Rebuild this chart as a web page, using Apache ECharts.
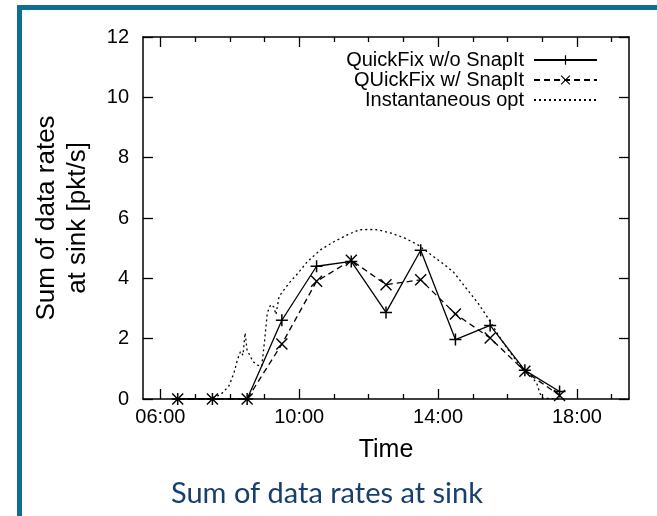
<!DOCTYPE html>
<html>
<head>
<meta charset="utf-8">
<script src="https://cdn.jsdelivr.net/npm/echarts@6/dist/echarts.min.js"></script>
<style>
  html, body { margin: 0; padding: 0; background: #fff; }
  #chart { width: 657px; height: 516px; }
</style>
</head>
<body>
<div id="chart"></div>
<script>
// sample times (hours), one point per hour
var hours = [6.5, 7.5, 8.5, 9.5, 10.5, 11.5, 12.5, 13.5, 14.5, 15.5, 16.5, 17.5];
var noSnapIt = [0, 0, 0, 2.61, 4.40, 4.56, 2.87, 4.93, 1.97, 2.44, 0.95, 0.25];
var withSnapIt = [0, 0, 0, 1.82, 3.90, 4.60, 3.79, 3.95, 2.82, 2.02, 0.92, 0.12];

// instantaneous optimum, finer sampling
var optHours = [6.5, 7.4, 7.73, 7.97, 8.12, 8.22, 8.31, 8.38, 8.44, 8.5, 8.58, 8.66, 8.8, 8.92,
    9.0, 9.08, 9.18, 9.27, 9.33, 9.42, 9.55, 9.75, 9.95, 10.24, 10.62, 11.01, 11.4, 11.73,
    12.0, 12.26, 12.65, 13.03, 13.42, 13.8, 14.19, 14.45, 14.77, 15.15, 15.44, 15.73, 16.02,
    16.31, 16.6, 16.84, 16.93, 17.0, 17.5];
var optValues = [0, 0, 0.14, 0.42, 0.86, 1.30, 1.58, 1.45, 2.19, 1.6, 1.45, 1.25, 1.12, 1.08,
    1.9, 2.85, 3.13, 3.05, 2.8, 3.4, 3.6, 3.9, 4.15, 4.56, 4.95, 5.22, 5.45, 5.61,
    5.62, 5.61, 5.5, 5.34, 5.11, 4.78, 4.45, 4.2, 3.73, 3.18, 2.68, 2.13, 1.63,
    1.19, 0.86, 0.53, 0.2, 0.03, 0];

var majorHours = [6, 10, 14, 18];
var minorHours = [7, 8, 9, 11, 12, 13, 15, 16, 17, 19];
var seriesNames = ['QuickFix w/o SnapIt', 'QUickFix w/ SnapIt', 'Instantaneous opt'];

var FONT = "'Liberation Sans', Arial, sans-serif";
var plusSymbol = 'path://M0,5.25h12v1.5h-12z M5.25,0h1.5v12h-1.5z';
var crossSymbol = 'path://M0,1L1,0L12,11L11,12Z M11,0L12,1L1,12L0,11Z';

function zip(xs, ys) {
    var out = [];
    for (let i = 0; i < xs.length; i++) {
        out.push([xs[i], ys[i]]);
    }
    return out;
}

function hourLabel(v) {
    return (v < 10 ? '0' : '') + v + ':00';
}

var axisLine = { show: true, lineStyle: { color: '#000', width: 1.5 } };

function xAxisCfg(position, ticks, len, main) {
    return {
        type: 'value', position: position, min: 5.5, max: 19.5,
        axisLine: main ? axisLine : { show: false },
        axisTick: { show: true, inside: true, length: len, customValues: ticks,
            lineStyle: { color: '#000', width: 1.3 } },
        axisLabel: { show: false },
        splitLine: { show: false }
    };
}

var bottomAxis = xAxisCfg('bottom', majorHours, 10, true);
bottomAxis.axisLabel = {
    show: true, customValues: majorHours, formatter: hourLabel,
    fontSize: 20, color: '#000', fontFamily: FONT, margin: 8
};
bottomAxis.name = 'Time';
bottomAxis.nameLocation = 'middle';
bottomAxis.nameGap = 39;
bottomAxis.nameTextStyle = { fontSize: 25, color: '#000', fontFamily: FONT };

function yAxisCfg(position, main) {
    var cfg = {
        type: 'value', position: position, min: 0, max: 12, interval: 2,
        axisLine: axisLine,
        axisTick: { show: true, inside: true, length: 10, lineStyle: { color: '#000', width: 1.3 } },
        axisLabel: { show: main, fontSize: 20, color: '#000', fontFamily: FONT, margin: 14 },
        splitLine: { show: false }
    };
    if (main) {
        cfg.name = 'Sum of data rates\nat sink [pkt/s]';
        cfg.nameLocation = 'middle';
        cfg.nameRotate = 90;
        cfg.nameGap = 50;
        cfg.nameTextStyle = { fontSize: 26, lineHeight: 31, color: '#000', fontFamily: FONT };
    }
    return cfg;
}

var option = {
    animation: false,
    backgroundColor: '#fff',
    title: {
        text: 'Sum of data rates at sink',
        left: 166, top: 474,
        textStyle: { fontSize: 29, fontWeight: 'normal', color: '#173f6e', fontFamily: 'Lato, sans-serif' }
    },
    graphic: [
        { type: 'rect', shape: { x: 17, y: 5, width: 5, height: 511 }, style: { fill: '#0f6e94' } },
        { type: 'rect', shape: { x: 17, y: 5, width: 640, height: 5 }, style: { fill: '#0f6e94' } }
    ],
    grid: { left: 143, top: 37, width: 486, height: 362, containLabel: false },
    legend: {
        orient: 'vertical', right: 54, top: 45, align: 'right',
        itemWidth: 63, itemHeight: 12, itemGap: 0,
        data: [
            { name: seriesNames[0] },
            { name: seriesNames[1] },
            { name: seriesNames[2], itemStyle: { opacity: 0 } }
        ],
        textStyle: { fontSize: 20, color: '#000', fontFamily: FONT, lineHeight: 19, padding: [0, 5, 0, 0] }
    },
    xAxis: [
        bottomAxis,
        xAxisCfg('bottom', minorHours, 5, false),
        xAxisCfg('top', majorHours, 10, true),
        xAxisCfg('top', minorHours, 5, false)
    ],
    yAxis: [yAxisCfg('left', true), yAxisCfg('right', false)],
    series: [
        {
            name: seriesNames[0], type: 'line', data: zip(hours, noSnapIt),
            symbol: plusSymbol, symbolSize: 12,
            itemStyle: { color: '#000' },
            lineStyle: { color: '#000', width: 1.3, type: 'solid' }
        },
        {
            name: seriesNames[1], type: 'line', data: zip(hours, withSnapIt),
            symbol: crossSymbol, symbolSize: 12,
            itemStyle: { color: '#000' },
            lineStyle: { color: '#000', width: 1.3, type: [6, 4] }
        },
        {
            name: seriesNames[2], type: 'line', data: zip(optHours, optValues),
            showSymbol: false, symbol: 'none',
            itemStyle: { color: '#000' },
            lineStyle: { color: '#000', width: 1.3, type: [2, 3] }
        }
    ]
};

var myChart = echarts.init(document.getElementById('chart'));
myChart.setOption(option);
</script>
</body>
</html>
